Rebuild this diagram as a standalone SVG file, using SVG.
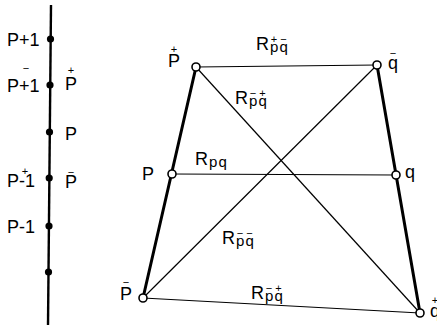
<svg xmlns="http://www.w3.org/2000/svg" width="437" height="328" viewBox="0 0 437 328">
<style>
text{font-family:"Liberation Sans",Arial,sans-serif;fill:#000}
.lab{font-size:18px}
.sub{font-size:15px}
.acc{font-size:11px;text-anchor:middle}
.thick{stroke:#000;stroke-width:3;fill:none;stroke-linecap:round}
.thin{stroke:#000;stroke-width:1.2;fill:none}
.axis{stroke:#000;stroke-width:2.4;fill:none}
.dot{fill:#000}
.node{fill:#fff;stroke:#000;stroke-width:1.6}
</style>
<rect width="437" height="328" fill="#fff"/>

<g id="axis">
<line class="axis" x1="51" y1="5" x2="48" y2="325"/>
<circle class="dot" cx="50.5" cy="39" r="3.6"/>
<circle class="dot" cx="50" cy="85" r="3.6"/>
<circle class="dot" cx="49.5" cy="132" r="3.6"/>
<circle class="dot" cx="49.2" cy="178" r="3.6"/>
<circle class="dot" cx="49" cy="226" r="3.6"/>
<circle class="dot" cx="48.5" cy="272" r="3.6"/>
</g>
<g id="axis-labels">
<text class="lab" x="7" y="46">P+1</text>
<text class="lab" x="7" y="92">P+1</text>
<text class="acc" x="26" y="72">−</text>
<text class="lab" x="65" y="90">P</text>
<text class="acc" x="71" y="74">+</text>
<text class="lab" x="65" y="140">P</text>
<text class="lab" x="7" y="187">P-1</text>
<text class="acc" x="25" y="175">+</text>
<text class="lab" x="65" y="188">P</text>
<text class="acc" x="71" y="176">−</text>
<text class="lab" x="7" y="233">P-1</text>
</g>

<g id="connectors">
<line class="thick" x1="196" y1="67" x2="143" y2="298"/>
<line class="thick" x1="377" y1="65" x2="420" y2="313"/>
<line class="thin" x1="196" y1="67" x2="377" y2="65"/>
<line class="thin" x1="172" y1="174" x2="396" y2="175"/>
<line class="thin" x1="143" y1="298" x2="420" y2="313"/>
<line class="thin" x1="196" y1="67" x2="420" y2="313"/>
<line class="thin" x1="143" y1="298" x2="377" y2="65"/>
</g>
<g id="connector-labels">
<text class="lab" x="256" y="50">R<tspan class="sub" x="270" dy="2">p</tspan><tspan class="sub" x="279.5">q</tspan></text>
<text class="acc" x="274" y="43">+</text>
<text class="acc" x="283.5" y="43">−</text>
<text class="lab" x="235" y="104">R<tspan class="sub" x="249" dy="2">p</tspan><tspan class="sub" x="258.5">q</tspan></text>
<text class="acc" x="253" y="97">−</text>
<text class="acc" x="262.5" y="97">+</text>
<text class="lab" x="195" y="165">R<tspan class="sub" x="209" dy="2">p</tspan><tspan class="sub" x="218.5">q</tspan></text>
<text class="lab" x="222" y="244">R<tspan class="sub" x="236" dy="2">p</tspan><tspan class="sub" x="245.5">q</tspan></text>
<text class="acc" x="240" y="237">−</text>
<text class="acc" x="249.5" y="237">−</text>
<text class="lab" x="251" y="299">R<tspan class="sub" x="265" dy="2">p</tspan><tspan class="sub" x="274.5">q</tspan></text>
<text class="acc" x="269" y="292">−</text>
<text class="acc" x="278.5" y="292">+</text>
</g>

<g id="node-Pplus">
<circle class="node" cx="196" cy="67" r="4"/>
<text class="lab" x="168" y="67">P</text>
<text class="acc" x="174" y="53">+</text>
</g>
<g id="node-qbar">
<circle class="node" cx="377" cy="65" r="4"/>
<text class="lab" x="388" y="69">q</text>
<text class="acc" x="393" y="57">−</text>
</g>
<g id="node-P">
<circle class="node" cx="172" cy="174" r="4"/>
<text class="lab" x="142" y="180">P</text>
</g>
<g id="node-q">
<circle class="node" cx="396" cy="175" r="4"/>
<text class="lab" x="405" y="178">q</text>
</g>
<g id="node-Pbar">
<circle class="node" cx="143" cy="298" r="4"/>
<text class="lab" x="120" y="300">P</text>
<text class="acc" x="126" y="286">−</text>
</g>
<g id="node-qplus">
<circle class="node" cx="420" cy="313" r="4"/>
<text class="lab" x="430" y="317">q</text>
<text class="acc" x="435" y="304">+</text>
</g>
</svg>
